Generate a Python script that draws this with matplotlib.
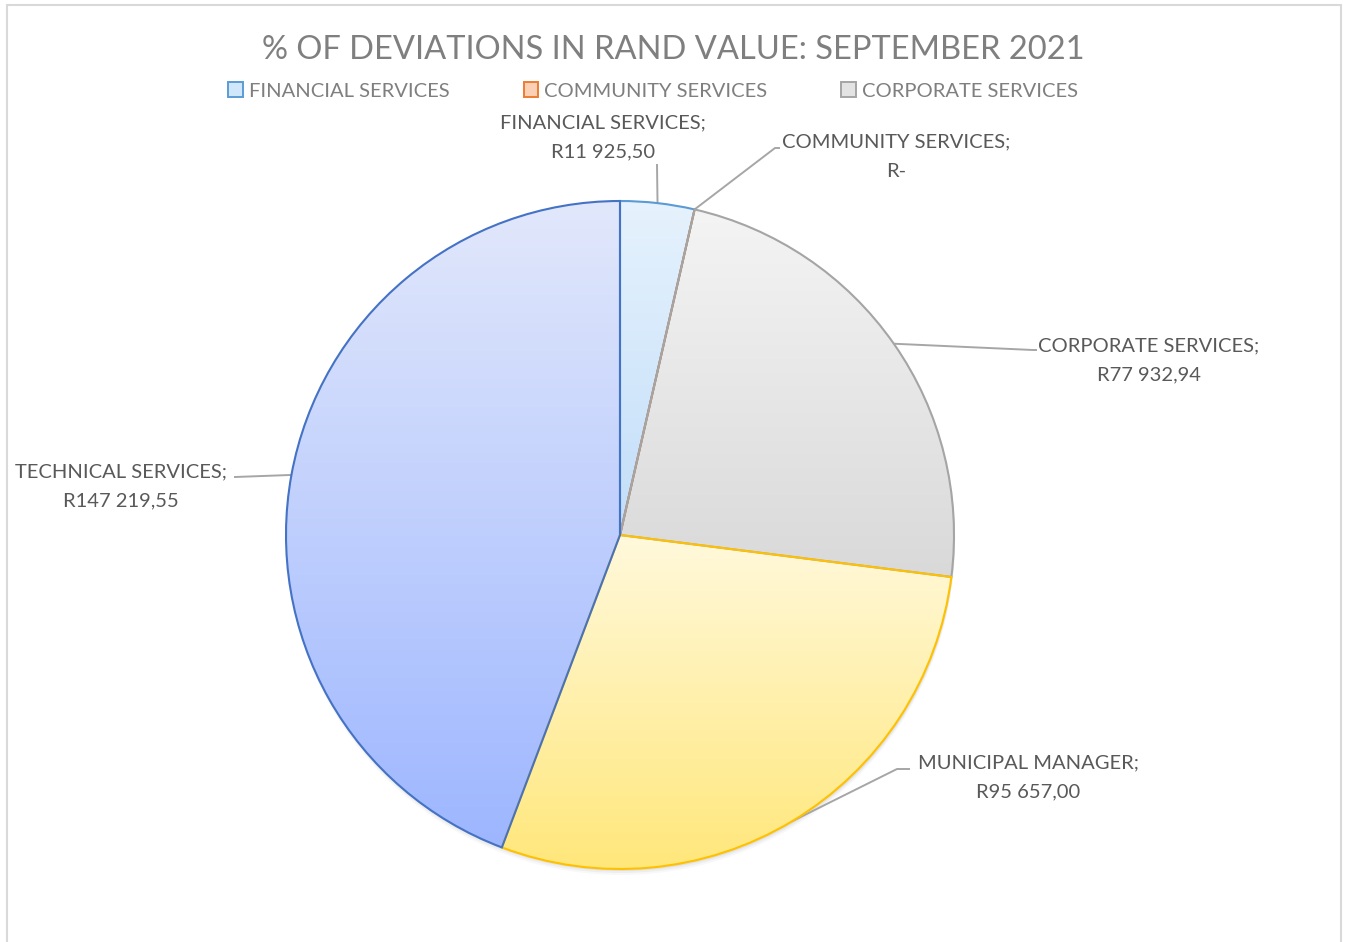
import numpy as np
import matplotlib
matplotlib.use("Agg")
import matplotlib.pyplot as plt
from matplotlib.patches import Patch, Rectangle, Circle
from matplotlib.colors import LinearSegmentedColormap

W, H = 1346, 942

departments = ["FINANCIAL SERVICES", "COMMUNITY SERVICES", "CORPORATE SERVICES",
               "MUNICIPAL MANAGER", "TECHNICAL SERVICES"]
amounts = [11925.50, 0.0, 77932.94, 95657.00, 147219.55]
value_labels = ["R11 925,50", "R-", "R77 932,94", "R95 657,00", "R147 219,55"]

# top / bottom gradient colour and outline per slice
grad_top = ["#e6f2fd", "#fde6d8", "#f4f4f4", "#fff9dc", "#e2e8fb"]
grad_bottom = ["#c2def9", "#f8c6a6", "#d9d9d9", "#ffe77a", "#9db6ff"]
edge_colors = ["#5b9bd5", "#ed7d31", "#a5a5a5", "#ffc000", "#4472c4"]
legend_fill = ["#cfe6fb", "#fbd0b4", "#e3e3e3"]

plt.rcParams["font.family"] = ["Lato", "DejaVu Sans"]

fig = plt.figure(figsize=(W / 100, H / 100), dpi=100)
ax = fig.add_axes([0, 0, 1, 1])

# chart frame
fig.patches.append(Rectangle((7 / W, -0.01), 1334 / W, 1 - 5 / H + 0.01,
                             transform=fig.transFigure, fill=False,
                             edgecolor="#d9d9d9", lw=1.5))

cx, cy, R = 620, H - 535, 334

# soft drop shadow under the pie
for off, a in [(6, 0.05), (4, 0.08), (2, 0.12)]:
    ax.add_patch(Circle((cx + 1, cy - off), R, facecolor="#7f7f7f",
                        edgecolor="none", alpha=a, zorder=1))
ax.add_patch(Circle((cx, cy), R, facecolor="white", edgecolor="none", zorder=1.5))

wedges, _ = ax.pie(amounts, center=(cx, cy), radius=R, startangle=90,
                   counterclock=False, frame=True,
                   wedgeprops=dict(linewidth=1.5))
ax.set_xlim(0, W)
ax.set_ylim(0, H)
ax.set_aspect("equal")
ax.axis("off")

grad = np.linspace(0, 1, 256).reshape(-1, 1)
for i, w in enumerate(wedges):
    w.set_facecolor("none")
    w.set_edgecolor(edge_colors[i])
    w.set_zorder(4)
    if amounts[i] <= 0:
        continue
    verts = w.get_path().vertices
    x0, y0 = verts.min(axis=0)
    x1, y1 = verts.max(axis=0)
    cmap = LinearSegmentedColormap.from_list(f"g{i}", [grad_top[i], grad_bottom[i]])
    im = ax.imshow(grad, cmap=cmap, extent=(x0, x1, y0, y1), origin="upper",
                   aspect="auto", zorder=3, interpolation="bilinear")
    im.set_clip_path(w)

# leader lines: from the slice mid-angle on the rim to the label elbow
total = sum(amounts)
elbows = [
    [(657, 165)],
    [(775, 148), (779, 148)],
    [(1033, 350), (1036, 350)],
    [(897, 769), (909, 769)],
    [(235, 477)],
]
label_pos = [(603, 137.5), (896, 156.5), (1149, 360.5), (1028, 777.5), (121, 486.5)]
start = 0.0
for i, amt in enumerate(amounts):
    mid = 90 - 360 * (start + amt / 2) / total
    start += amt
    px = cx + R * np.cos(np.radians(mid))
    py = cy + R * np.sin(np.radians(mid))
    xs = [px] + [e[0] for e in elbows[i]]
    ys = [py] + [H - e[1] for e in elbows[i]]
    ax.plot(xs, ys, color="#a6a6a6", lw=1.4, zorder=2)
    lx, ly = label_pos[i]
    ax.text(lx, H - ly, f"{departments[i]};\n{value_labels[i]}", ha="center",
            va="center", fontsize=14.5, color="#595959", linespacing=1.88,
            zorder=6)

ax.text(673, H - 50, "% OF DEVIATIONS IN RAND VALUE: SEPTEMBER 2021",
        ha="center", va="center", fontsize=23.5, color="#7f7f7f")

handles = [Patch(facecolor=legend_fill[i], edgecolor=edge_colors[i], lw=1.4)
           for i in range(3)]
fig.legend(handles, departments[:3], loc="center", ncol=3,
           bbox_to_anchor=(653 / W, 1 - 91 / H), frameon=False,
           fontsize=14.5, labelcolor="#7f7f7f", handlelength=0.7,
           handleheight=0.7, handletextpad=0.3, columnspacing=3.7)

fig.savefig("out.png", dpi=100)
